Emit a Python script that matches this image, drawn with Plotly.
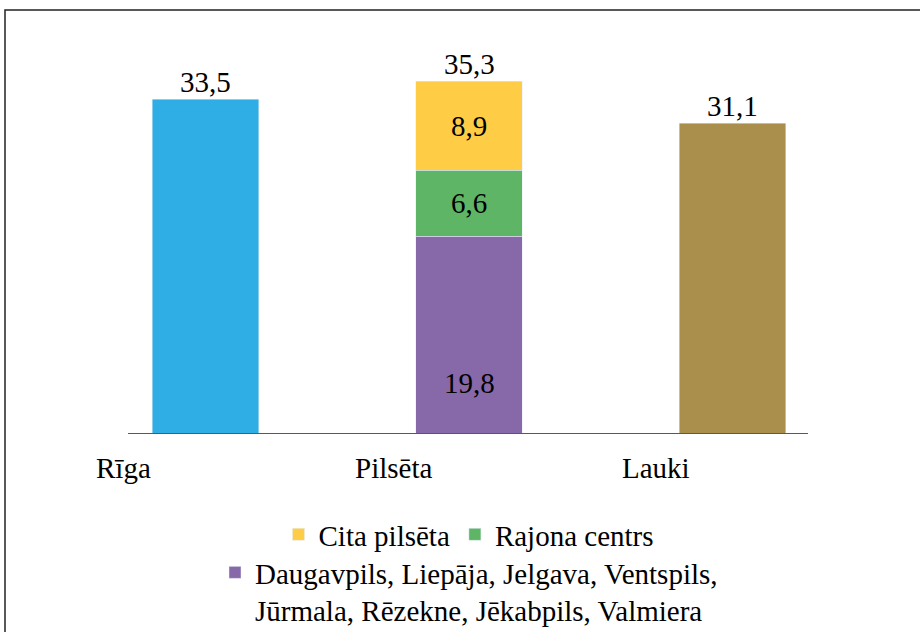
import plotly.graph_objects as go

categories = ["Rīga", "Pilsēta", "Lauki"]
riga_values = [33.5, None, None]
big_city_values = [None, 19.8, None]
district_values = [None, 6.6, None]
other_city_values = [None, 8.9, None]
lauki_values = [None, None, 31.1]
totals = [33.5, 35.3, 31.1]

big_city_name = "Daugavpils, Liepāja, Jelgava, Ventspils,<br>Jūrmala, Rēzekne, Jēkabpils, Valmiera"
district_name = "Rajona centrs"
other_city_name = "Cita pilsēta"

FONT = "'Liberation Serif', 'Times New Roman', 'DejaVu Serif', serif"
FS = 29
TXT = dict(family=FONT, size=FS, color="black")

def fmt(v):
    return f"{v:.1f}".replace(".", ",")

fig = go.Figure()
W = 0.405
fig.add_trace(go.Bar(x=categories, y=riga_values, marker_color="#2EAEE5", width=W, showlegend=False))
fig.add_trace(go.Bar(x=categories, y=big_city_values, marker_color="#8768A9", width=W,
                     name=big_city_name, legend="legend2"))
fig.add_trace(go.Bar(x=categories, y=district_values, marker_color="#5DB565", width=W,
                     name=district_name, legend="legend",
                     text=[fmt(v) if v else "" for v in district_values], textposition="inside",
                     insidetextanchor="middle", textfont=TXT))
fig.add_trace(go.Bar(x=categories, y=other_city_values, marker_color="#FECC45", width=W,
                     name=other_city_name, legend="legend",
                     text=[fmt(v) if v else "" for v in other_city_values], textposition="inside",
                     insidetextanchor="middle", textfont=TXT))
fig.add_trace(go.Bar(x=categories, y=lauki_values, marker_color="#A98E4C", width=W, showlegend=False))

annotations = []
for c, t in zip(categories, totals):
    annotations.append(dict(x=c, y=t, xref="x", yref="y", text=fmt(t), showarrow=False,
                            yanchor="bottom", yshift=-1, font=TXT))
for c, v in zip(categories, big_city_values):
    if v:
        annotations.append(dict(x=c, y=v * 0.26, xref="x", yref="y", text=fmt(v), showarrow=False,
                                yanchor="middle", font=TXT))
for c, sh in zip(categories, [-82, -76, -76]):
    annotations.append(dict(x=c, y=0, xref="x", yref="y", text=c, showarrow=False,
                            yanchor="top", yshift=-16, xshift=sh, font=TXT))

shapes = [
    dict(type="line", xref="paper", yref="y", x0=(128 - 74) / 790, x1=(808 - 74) / 790, y0=0, y1=0,
         line=dict(color="#595959", width=2), layer="above"),
    dict(type="rect", xref="paper", yref="paper", x0=-69 / 790, x1=1.5, y0=-0.9, y1=424 / 400,
         line=dict(color="#222222", width=1.5), layer="above"),
]

fig.update_layout(
    width=920, height=632,
    margin=dict(l=74, r=56, t=34, b=198, autoexpand=False),
    paper_bgcolor="white", plot_bgcolor="white",
    barmode="stack",
    showlegend=True,
    xaxis=dict(range=[-0.5, 2.5], showticklabels=False, showline=False, showgrid=False,
               zeroline=False, ticks=""),
    yaxis=dict(range=[0, 40], visible=False),
    legend=dict(orientation="h", x=0.5, xanchor="center", y=-0.1875, yanchor="top",
                traceorder="reversed", font=TXT, bgcolor="rgba(0,0,0,0)", itemwidth=30),
    legend2=dict(orientation="h", x=0.5, xanchor="center", y=-0.2825, yanchor="top",
                 font=TXT, valign="top", bgcolor="rgba(0,0,0,0)", itemwidth=30),
    annotations=annotations,
    shapes=shapes,
    font=TXT,
)

post = (
    "document.body.style.margin='0';"
    "var gd=document.getElementById('{plot_id}');"
    "if(document.fonts&&document.fonts.ready){document.fonts.ready.then(function(){Plotly.redraw(gd);});}"
)
fig.write_html("out.html", config={"displayModeBar": False}, post_script=post)
